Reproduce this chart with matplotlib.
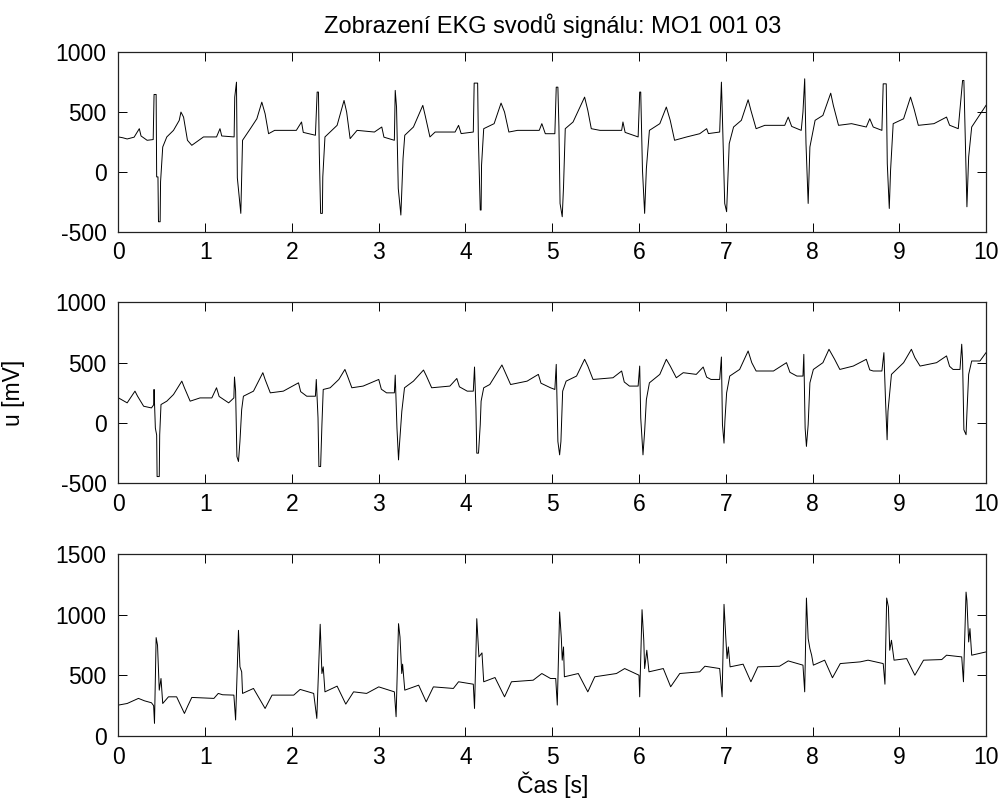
import matplotlib.pyplot as plt

# Data (čas [s], napětí [mV])
t1 = [0.00, 0.05, 0.10, 0.18, 0.24, 0.26, 0.33, 0.40, 0.41, 0.434, 0.44, 0.455, 0.461, 0.48, 0.485, 0.51,
      0.557, 0.634, 0.70, 0.72, 0.75, 0.795, 0.845, 0.98, 1.13, 1.17, 1.19, 1.333, 1.34, 1.36, 1.37, 1.41,
      1.43, 1.52, 1.595, 1.652, 1.69, 1.73, 1.80, 2.05, 2.11, 2.13, 2.27, 2.29, 2.305, 2.315, 2.33, 2.35,
      2.355, 2.38, 2.52, 2.60, 2.63, 2.67, 2.75, 2.95, 3.035, 3.06, 3.18, 3.19, 3.205, 3.225, 3.255, 3.28,
      3.30, 3.40, 3.508, 3.535, 3.59, 3.65, 3.88, 3.92, 3.95, 4.09, 4.10, 4.14, 4.148, 4.17, 4.18, 4.185,
      4.21, 4.33, 4.41, 4.45, 4.50, 4.60, 4.85, 4.88, 4.92, 5.03, 5.046, 5.065, 5.077, 5.09, 5.115, 5.13,
      5.15, 5.24, 5.373, 5.41, 5.45, 5.55, 5.80, 5.815, 5.84, 5.99, 6.008, 6.02, 6.04, 6.065, 6.085, 6.12,
      6.24, 6.315, 6.36, 6.41, 6.55, 6.70, 6.78, 6.80, 6.93, 6.95, 6.96, 6.988, 7.01, 7.04, 7.09, 7.18,
      7.258, 7.29, 7.35, 7.45, 7.68, 7.72, 7.76, 7.87, 7.89, 7.91, 7.925, 7.95, 7.97, 8.03, 8.12, 8.21,
      8.24, 8.30, 8.45, 8.62, 8.66, 8.70, 8.80, 8.815, 8.85, 8.862, 8.885, 8.90, 8.93, 9.05, 9.13, 9.17,
      9.22, 9.40, 9.545, 9.58, 9.68, 9.73, 9.745, 9.755, 9.78, 9.80, 9.835, 9.95, 10.0]
u1 = [292, 285, 275, 290, 361, 300, 264, 270, 647, 647, -42, -42, -417, -417, -83, 208,
      292, 347, 430, 500, 458, 264, 222, 292, 292, 361, 300, 292, 625, 750, -50, -347,
      264, 361, 444, 583, 486, 319, 347, 347, 417, 330, 306, 667, 667, 153, -347, -347,
      -42, 292, 389, 597, 500, 278, 347, 333, 375, 290, 264, 681, 542, -139, -361, 111,
      306, 375, 556, 472, 292, 333, 333, 389, 320, 333, 742, 742, 292, -319, -319, 56,
      361, 403, 575, 500, 333, 347, 347, 403, 319, 319, 708, 708, 375, -264, -375, -125,
      361, 417, 625, 514, 361, 347, 347, 417, 330, 292, 667, 667, 14, -347, 28, 347,
      403, 542, 431, 264, 292, 319, 361, 320, 333, 750, 500, -264, -333, 236, 375, 431,
      603, 514, 361, 389, 389, 458, 380, 347, 500, 778, 236, -264, 208, 431, 472, 658,
      556, 389, 403, 375, 444, 375, 347, 736, 736, 69, -306, 14, 403, 444, 625, 528,
      389, 403, 458, 390, 361, 764, 764, 458, -292, 125, 375, 500, 556]

t2 = [0.00, 0.10, 0.19, 0.22, 0.29, 0.38, 0.405, 0.41, 0.425, 0.44, 0.445, 0.47, 0.475, 0.49, 0.557,
      0.634, 0.73, 0.76, 0.826, 0.94, 1.076, 1.13, 1.16, 1.27, 1.33, 1.337, 1.35, 1.365, 1.383, 1.40,
      1.42, 1.44, 1.556, 1.664, 1.69, 1.75, 1.90, 2.075, 2.10, 2.17, 2.27, 2.28, 2.30, 2.31, 2.33, 2.345,
      2.36, 2.44, 2.54, 2.61, 2.64, 2.69, 2.82, 3.00, 3.03, 3.09, 3.18, 3.19, 3.21, 3.228, 3.236, 3.266,
      3.297, 3.40, 3.516, 3.55, 3.61, 3.82, 3.90, 3.93, 4.02, 4.09, 4.104, 4.12, 4.13, 4.15, 4.17, 4.18,
      4.21, 4.28, 4.42, 4.46, 4.52, 4.71, 4.84, 4.87, 4.98, 5.03, 5.046, 5.065, 5.085, 5.10, 5.12, 5.16,
      5.28, 5.373, 5.41, 5.47, 5.70, 5.80, 5.83, 5.89, 5.99, 6.008, 6.02, 6.046, 6.065, 6.085, 6.12, 6.24,
      6.315, 6.36, 6.43, 6.51, 6.66, 6.74, 6.78, 6.83, 6.93, 6.95, 6.962, 6.98, 6.99, 7.01, 7.046, 7.16,
      7.258, 7.30, 7.35, 7.55, 7.70, 7.74, 7.82, 7.89, 7.90, 7.915, 7.93, 7.95, 7.97, 8.01, 8.12, 8.19,
      8.255, 8.315, 8.47, 8.62, 8.66, 8.70, 8.80, 8.823, 8.842, 8.86, 8.87, 8.91, 9.05, 9.14, 9.18, 9.24,
      9.43, 9.545, 9.58, 9.62, 9.70, 9.72, 9.73, 9.745, 9.77, 9.78, 9.80, 9.835, 9.93, 10.0]
u2 = [208, 167, 264, 222, 139, 125, 150, 278, -42, -100, -444, -444, -97, 153, 181,
      236, 347, 292, 181, 208, 208, 292, 220, 167, 208, 381, 264, -278, -319, -153,
      111, 222, 264, 417, 361, 250, 264, 333, 260, 222, 222, 361, 42, -361, -361, -14,
      278, 292, 361, 444, 389, 292, 306, 361, 280, 250, 250, 397, -42, -306, -208, 97,
      292, 347, 439, 389, 292, 306, 369, 300, 264, 264, 464, 125, -250, -250, -14, 181,
      292, 319, 481, 417, 319, 347, 403, 330, 292, 278, 486, -153, -264, -153, 264, 347,
      389, 528, 472, 361, 375, 431, 340, 306, 306, 472, 42, -264, -69, 194, 333, 403,
      528, 472, 375, 417, 403, 464, 380, 361, 361, 547, -14, -167, 14, 250, 389, 444,
      597, 500, 431, 431, 500, 420, 389, 389, 569, -42, -194, -14, 333, 444, 500, 611,
      528, 444, 472, 528, 440, 431, 431, 583, 181, -139, 97, 403, 500, 611, 542, 472,
      500, 556, 470, 444, 444, 653, 514, -56, -97, 83, 403, 514, 514, 583]

t3 = [0.00, 0.10, 0.23, 0.30, 0.38, 0.405, 0.415, 0.434, 0.45, 0.47, 0.49, 0.51, 0.576, 0.67, 0.76,
      0.80, 0.845, 1.10, 1.15, 1.20, 1.33, 1.35, 1.383, 1.40, 1.42, 1.43, 1.556, 1.69, 1.77, 2.02,
      2.094, 2.25, 2.286, 2.325, 2.345, 2.36, 2.38, 2.52, 2.62, 2.71, 2.86, 3.00, 3.18, 3.20, 3.228,
      3.245, 3.265, 3.275, 3.30, 3.46, 3.547, 3.63, 3.86, 3.92, 4.09, 4.104, 4.13, 4.155, 4.19, 4.21,
      4.34, 4.45, 4.53, 4.78, 4.88, 4.98, 5.04, 5.058, 5.085, 5.105, 5.115, 5.13, 5.14, 5.30, 5.41,
      5.49, 5.74, 5.835, 6.0, 6.008, 6.035, 6.055, 6.065, 6.09, 6.115, 6.28, 6.365, 6.47, 6.70, 6.76,
      6.93, 6.958, 6.98, 7.00, 7.015, 7.03, 7.05, 7.20, 7.29, 7.37, 7.62, 7.72, 7.89, 7.91, 7.93,
      7.95, 7.97, 7.99, 8.01, 8.14, 8.23, 8.32, 8.55, 8.64, 8.815, 8.835, 8.855, 8.875, 8.89, 8.91,
      8.94, 9.085, 9.18, 9.28, 9.49, 9.545, 9.72, 9.74, 9.77, 9.78, 9.80, 9.815, 9.835, 10.0]
u3 = [255, 268, 310, 290, 274, 250, 104, 811, 748, 378, 474, 268, 323, 323, 186,
      250, 318, 310, 351, 340, 337, 132, 871, 570, 529, 351, 392, 227, 337, 337,
      384, 351, 145, 921, 515, 570, 364, 411, 263, 364, 351, 405, 364, 159, 926,
      816, 515, 592, 378, 419, 282, 405, 392, 447, 427, 227, 967, 652, 685, 447,
      482, 323, 447, 460, 515, 474, 474, 255, 1022, 803, 625, 734, 488, 515, 364,
      488, 515, 556, 501, 323, 1041, 789, 556, 707, 529, 556, 406, 515, 529, 575,
      556, 323, 1085, 817, 638, 734, 570, 592, 447, 570, 575, 619, 584, 364, 1137,
      803, 721, 666, 584, 625, 480, 597, 611, 625, 597, 427, 1137, 1063, 707, 789,
      625, 638, 501, 625, 630, 666, 652, 447, 1186, 1118, 775, 885, 666, 693]

svody = [(t1, u1, (-500, 1000), [-500, 0, 500, 1000]),
         (t2, u2, (-500, 1000), [-500, 0, 500, 1000]),
         (t3, u3, (0, 1500), [0, 500, 1000, 1500])]

plt.rcParams['font.family'] = ['Liberation Sans', 'DejaVu Sans']
plt.rcParams['font.size'] = 16.5
plt.rcParams['axes.unicode_minus'] = False  # pomlcka jako v originale (-500)

fig = plt.figure(figsize=(10.05, 8.05), dpi=100)
pozice = [[0.1179, 0.7122, 0.8632, 0.2229],
          [0.1179, 0.3996, 0.8632, 0.2248],
          [0.1179, 0.0857, 0.8632, 0.2261]]

osy = []
for (t, u, lim, yt), pos in zip(svody, pozice):
    ax = fig.add_axes(pos)
    ax.plot(t, u, color='black', linewidth=0.7)
    ax.set_xlim(0, 10)
    ax.set_ylim(*lim)
    ax.set_xticks(range(0, 11))
    ax.set_yticks(yt)
    ax.tick_params(direction='in', length=6.3, width=0.7, top=True, right=True)
    ax.tick_params(axis='x', pad=7)
    ax.tick_params(axis='y', pad=8.5)
    for s in ax.spines.values():
        s.set_linewidth(0.9)
        s.set_color('#222222')
    osy.append(ax)

osy[0].set_title('Zobrazení EKG svodů signálu: MO1 001 03', fontsize=17, pad=14)
osy[1].set_ylabel('u [mV]')
osy[1].yaxis.set_label_coords(-0.108, 0.5)
osy[2].set_xlabel('Čas [s]', labelpad=2)

plt.savefig('out.png', dpi=100)
